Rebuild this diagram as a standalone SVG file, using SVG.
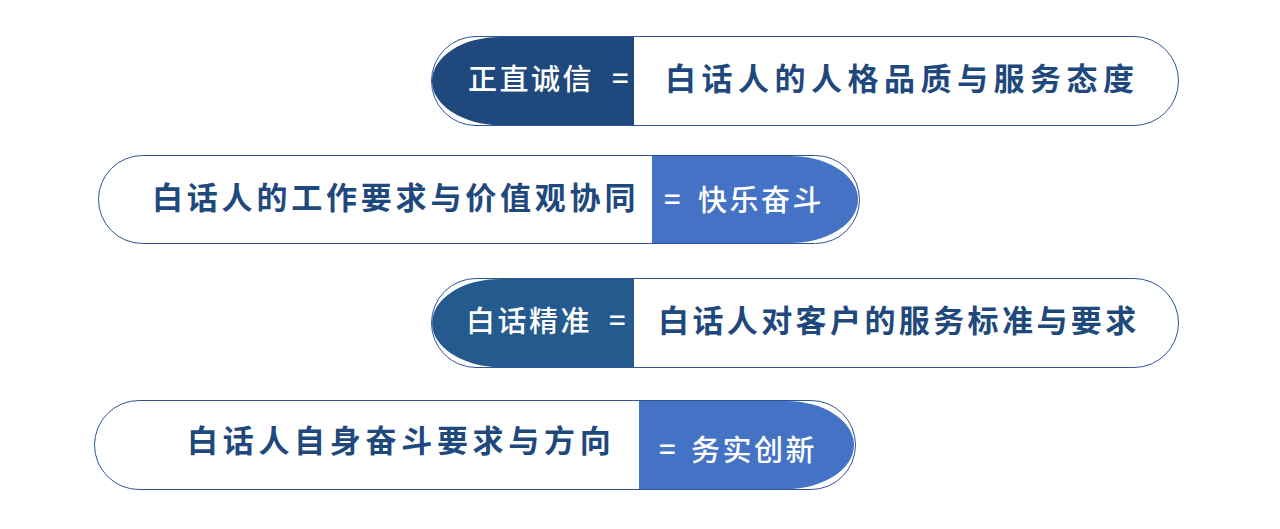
<svg xmlns="http://www.w3.org/2000/svg" width="1280" height="529" viewBox="0 0 1280 529">
<style>
.o{fill:#fff;stroke:#2F5597;stroke-width:1}
.t{font-family:"Noto Sans CJK SC",sans-serif;font-weight:bold;font-size:31px;fill:#1F497D}
.s{font-family:"Noto Sans CJK SC",sans-serif;font-weight:500;font-size:29px;fill:#fff;letter-spacing:2.5px}
</style>
<g id="n1">
<rect class="o" x="431.5" y="36.5" width="747" height="89" rx="44.5"/>
<path d="M634 37H500A68 44 0 0 0 500 125H634Z" fill="#1F497D"/>
<text class="s" x="468" y="90">正直诚信</text><text class="s" x="612" y="89">=</text>
<text class="t" x="665" y="90" style="letter-spacing:5.5px">白话人的人格品质与服务态度</text>
</g>
<g id="n2">
<rect class="o" x="98.5" y="155.5" width="761" height="88" rx="44"/>
<path d="M652 156H790A68 43.5 0 0 1 790 243H652Z" fill="#4472C4"/>
<text class="t" x="152" y="209" style="letter-spacing:3.8px">白话人的工作要求与价值观协同</text>
<text class="s" x="664" y="210">=</text><text class="s" x="698" y="211">快乐奋斗</text>
</g>
<g id="n3">
<rect class="o" x="431.5" y="278.5" width="747" height="89" rx="44.5"/>
<path d="M634 279H500A68 44 0 0 0 500 367H634Z" fill="#245A8D"/>
<text class="s" x="466" y="332">白话精准</text><text class="s" x="609" y="331">=</text>
<text class="t" x="658" y="332" style="letter-spacing:3.4px">白话人对客户的服务标准与要求</text>
</g>
<g id="n4">
<rect class="o" x="94.5" y="400.5" width="761" height="89" rx="44.5"/>
<path d="M639 401H786A68 44 0 0 1 786 489H639Z" fill="#4472C4"/>
<text class="t" x="187" y="452" style="letter-spacing:4.7px">白话人自身奋斗要求与方向</text>
<text class="s" x="659" y="460">=</text><text class="s" x="691" y="461">务实创新</text>
</g>
<g id="connectors"/>
</svg>
